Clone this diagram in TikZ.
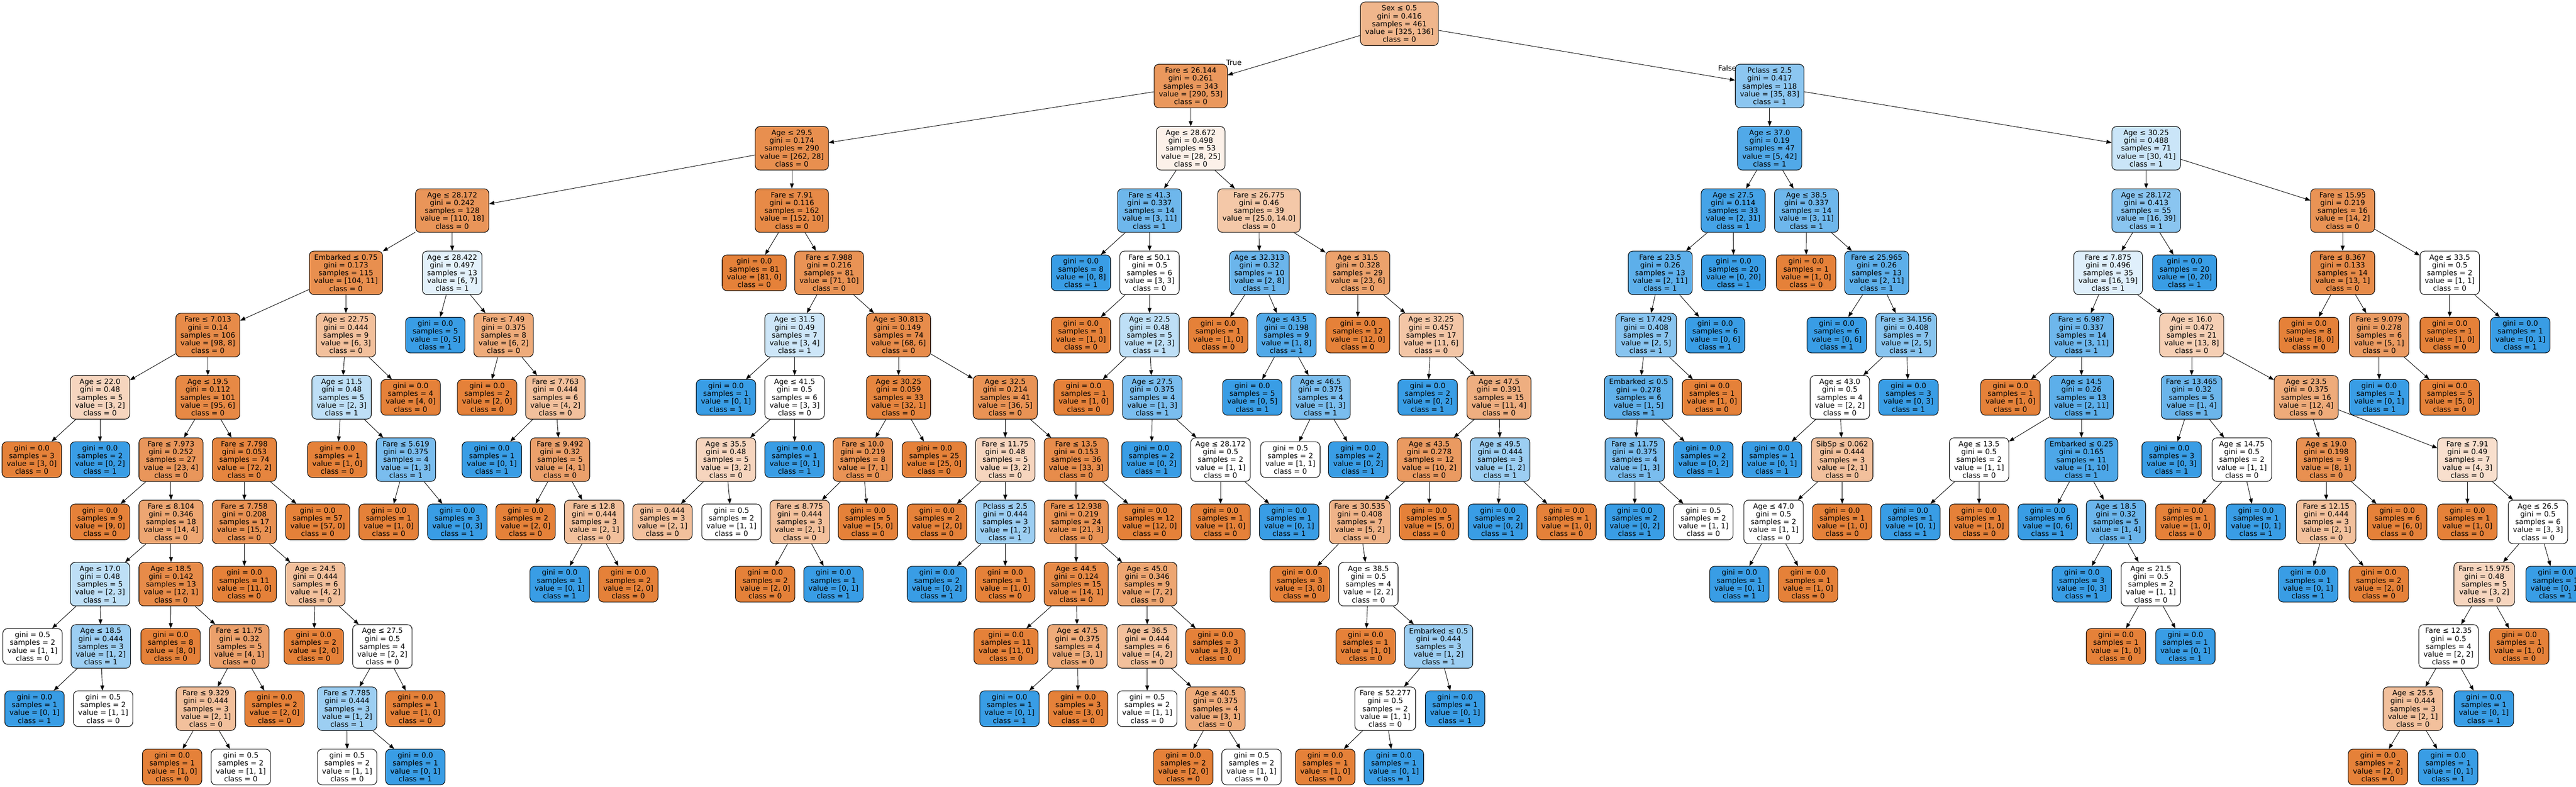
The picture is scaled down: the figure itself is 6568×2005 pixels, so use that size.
\documentclass[tikz,border=0pt]{standalone}
\usepackage{fontspec}
\setmainfont{DejaVu Sans}
\usetikzlibrary{arrows.meta}
\definecolor{cls0}{RGB}{229,129,57}
\definecolor{cls1}{RGB}{57,157,229}
\tikzset{
  dtbox/.style={draw=black, line width=0.7pt, rounded corners=6pt, align=center,
    font=\fontsize{9.25}{10}\selectfont, inner xsep=6pt, inner ysep=0pt, text=black},
  dtinner/.style={dtbox, minimum height=55.5pt},
  dtleaf/.style={dtbox, minimum height=45.5pt},
  dtedge/.style={-{Triangle[length=6.5pt,width=5pt]}, line width=0.6pt, black},
  dtlabel/.style={font=\fontsize{9.25}{10}\selectfont, inner sep=0pt, text=black}
}
\newcommand{\TreeNode}[8]{%
  \pgfmathsetmacro{\dtA}{#7}%
  \pgfmathsetmacro{\dtB}{#8}%
  \pgfmathtruncatemacro{\dtCls}{\dtB>\dtA ? 1 : 0}%
  \pgfmathsetmacro{\dtMax}{max(\dtA,\dtB)}%
  \pgfmathsetmacro{\dtMin}{min(\dtA,\dtB)}%
  \pgfmathsetmacro{\dtFrac}{(\dtMax-\dtMin)/\dtMax}%
  \pgfmathtruncatemacro{\dtAlp}{round(100*\dtFrac)}%
  \pgfmathsetmacro{\dtY}{#3==12 ? 1955 : 60.6+158.7*#3}%
  \ifnum\dtCls=0 \colorlet{dtfill}{cls0!\dtAlp!white}\else\colorlet{dtfill}{cls1!\dtAlp!white}\fi
  \if\relax\detokenize{#4}\relax
    \node[dtleaf, fill=dtfill] (#1) at (#2,\dtY) {gini = #5\\samples = #6\\value = [#7, #8]\\class = \dtCls};
  \else
    \node[dtinner, fill=dtfill] (#1) at (#2,\dtY) {#4\\gini = #5\\samples = #6\\value = [#7, #8]\\class = \dtCls};
  \fi
}
\begin{document}
\begin{tikzpicture}[x=0.5pt,y=-0.5pt]
\fill[white] (0,0) rectangle (6568,2005);
\useasboundingbox (0,0) rectangle (6568,2005);
% level 0-3
\TreeNode{R}{3568}{0}{Sex ≤ 0.5}{0.416}{461}{325}{136}
\TreeNode{A}{3036}{1}{Fare ≤ 26.144}{0.261}{343}{290}{53}
\TreeNode{B}{4512}{1}{Pclass ≤ 2.5}{0.417}{118}{35}{83}
\TreeNode{A1}{2019}{2}{Age ≤ 29.5}{0.174}{290}{262}{28}
\TreeNode{A2}{3036}{2}{Age ≤ 28.672}{0.498}{53}{28}{25}
\TreeNode{B1}{4512}{2}{Age ≤ 37.0}{0.19}{47}{5}{42}
\TreeNode{B2}{5472}{2}{Age ≤ 30.25}{0.488}{71}{30}{41}
\TreeNode{A11}{1153}{3}{Age ≤ 28.172}{0.242}{128}{110}{18}
\TreeNode{A12}{2019}{3}{Fare ≤ 7.91}{0.116}{162}{152}{10}
\TreeNode{A21}{2931}{3}{Fare ≤ 41.3}{0.337}{14}{3}{11}
\TreeNode{A22}{3210}{3}{Fare ≤ 26.775}{0.46}{39}{25.0}{14.0}
\TreeNode{B11}{4419}{3}{Age ≤ 27.5}{0.114}{33}{2}{31}
\TreeNode{B12}{4606}{3}{Age ≤ 38.5}{0.337}{14}{3}{11}
\TreeNode{B21}{5472}{3}{Age ≤ 28.172}{0.413}{55}{16}{39}
\TreeNode{B22}{5973}{3}{Fare ≤ 15.95}{0.219}{16}{14}{2}
% level 4
\TreeNode{c1}{882}{4}{Embarked ≤ 0.75}{0.173}{115}{104}{11}
\TreeNode{c2}{1153}{4}{Age ≤ 28.422}{0.497}{13}{6}{7}
\TreeNode{c3}{1923}{4}{}{0.0}{81}{81}{0}
\TreeNode{c4}{2114}{4}{Fare ≤ 7.988}{0.216}{81}{71}{10}
\TreeNode{c5}{2756}{4}{}{0.0}{8}{0}{8}
\TreeNode{c6}{2931}{4}{Fare ≤ 50.1}{0.5}{6}{3}{3}
\TreeNode{c7}{3211}{4}{Age ≤ 32.313}{0.32}{10}{2}{8}
\TreeNode{c8}{3462}{4}{Age ≤ 31.5}{0.328}{29}{23}{6}
\TreeNode{c9}{4233}{4}{Fare ≤ 23.5}{0.26}{13}{2}{11}
\TreeNode{c10}{4420}{4}{}{0.0}{20}{0}{20}
\TreeNode{c11}{4605}{4}{}{0.0}{1}{1}{0}
\TreeNode{c12}{4785}{4}{Fare ≤ 25.965}{0.26}{13}{2}{11}
\TreeNode{c13}{5375}{4}{Fare ≤ 7.875}{0.496}{35}{16}{19}
\TreeNode{c14}{5570}{4}{}{0.0}{20}{0}{20}
\TreeNode{c15}{5973}{4}{Fare ≤ 8.367}{0.133}{14}{13}{1}
\TreeNode{c16}{6246}{4}{Age ≤ 33.5}{0.5}{2}{1}{1}
% level 5
\TreeNode{d1}{530}{5}{Fare ≤ 7.013}{0.14}{106}{98}{8}
\TreeNode{d2}{882}{5}{Age ≤ 22.75}{0.444}{9}{6}{3}
\TreeNode{d3}{1110}{5}{}{0.0}{5}{0}{5}
\TreeNode{d4}{1284}{5}{Fare ≤ 7.49}{0.375}{8}{6}{2}
\TreeNode{d5}{2026}{5}{Age ≤ 31.5}{0.49}{7}{3}{4}
\TreeNode{d6}{2291}{5}{Age ≤ 30.813}{0.149}{74}{68}{6}
\TreeNode{d7}{2756}{5}{}{0.0}{1}{1}{0}
\TreeNode{d8}{2931}{5}{Age ≤ 22.5}{0.48}{5}{2}{3}
\TreeNode{d9}{3106}{5}{}{0.0}{1}{1}{0}
\TreeNode{d10}{3280}{5}{Age ≤ 43.5}{0.198}{9}{1}{8}
\TreeNode{d11}{3462}{5}{}{0.0}{12}{12}{0}
\TreeNode{d12}{3649}{5}{Age ≤ 32.25}{0.457}{17}{11}{6}
\TreeNode{d13}{4197}{5}{Fare ≤ 17.429}{0.408}{7}{2}{5}
\TreeNode{d14}{4373}{5}{}{0.0}{6}{0}{6}
\TreeNode{d15}{4683}{5}{}{0.0}{6}{0}{6}
\TreeNode{d16}{4860}{5}{Fare ≤ 34.156}{0.408}{7}{2}{5}
\TreeNode{d17}{5307}{5}{Fare ≤ 6.987}{0.337}{14}{3}{11}
\TreeNode{d18}{5588}{5}{Age ≤ 16.0}{0.472}{21}{13}{8}
\TreeNode{d19}{5887}{5}{}{0.0}{8}{8}{0}
\TreeNode{d20}{6066}{5}{Fare ≤ 9.079}{0.278}{6}{5}{1}
\TreeNode{d21}{6246}{5}{}{0.0}{1}{1}{0}
\TreeNode{d22}{6426}{5}{}{0.0}{1}{0}{1}
% level 6
\TreeNode{e1}{255}{6}{Age ≤ 22.0}{0.48}{5}{3}{2}
\TreeNode{e2}{530}{6}{Age ≤ 19.5}{0.112}{101}{95}{6}
\TreeNode{e3}{871}{6}{Age ≤ 11.5}{0.48}{5}{2}{3}
\TreeNode{e4}{1047}{6}{}{0.0}{4}{4}{0}
\TreeNode{e5}{1242}{6}{}{0.0}{2}{2}{0}
\TreeNode{e6}{1416}{6}{Fare ≤ 7.763}{0.444}{6}{4}{2}
\TreeNode{e7}{1851}{6}{}{0.0}{1}{0}{1}
\TreeNode{e8}{2026}{6}{Age ≤ 41.5}{0.5}{6}{3}{3}
\TreeNode{e9}{2291}{6}{Age ≤ 30.25}{0.059}{33}{32}{1}
\TreeNode{e10}{2563}{6}{Age ≤ 32.5}{0.214}{41}{36}{5}
\TreeNode{e11}{2763}{6}{}{0.0}{1}{1}{0}
\TreeNode{e12}{2938}{6}{Age ≤ 27.5}{0.375}{4}{1}{3}
\TreeNode{e13}{3193}{6}{}{0.0}{5}{0}{5}
\TreeNode{e14}{3367}{6}{Age ≤ 46.5}{0.375}{4}{1}{3}
\TreeNode{e15}{3640}{6}{}{0.0}{2}{0}{2}
\TreeNode{e16}{3822}{6}{Age ≤ 47.5}{0.391}{15}{11}{4}
\TreeNode{e17}{4178}{6}{Embarked ≤ 0.5}{0.278}{6}{1}{5}
\TreeNode{e18}{4365}{6}{}{0.0}{1}{1}{0}
\TreeNode{e19}{4691}{6}{Age ≤ 43.0}{0.5}{4}{2}{2}
\TreeNode{e20}{4866}{6}{}{0.0}{3}{0}{3}
\TreeNode{e21}{5126}{6}{}{0.0}{1}{1}{0}
\TreeNode{e22}{5307}{6}{Age ≤ 14.5}{0.26}{13}{2}{11}
\TreeNode{e23}{5588}{6}{Fare ≤ 13.465}{0.32}{5}{1}{4}
\TreeNode{e24}{5880}{6}{Age ≤ 23.5}{0.375}{16}{12}{4}
\TreeNode{e25}{6066}{6}{}{0.0}{1}{0}{1}
\TreeNode{e26}{6246}{6}{}{0.0}{5}{5}{0}
% level 7
\TreeNode{f1}{81}{7}{}{0.0}{3}{3}{0}
\TreeNode{f2}{255}{7}{}{0.0}{2}{0}{2}
\TreeNode{f3}{436}{7}{Fare ≤ 7.973}{0.252}{27}{23}{4}
\TreeNode{f4}{623}{7}{Fare ≤ 7.798}{0.053}{74}{72}{2}
\TreeNode{f5}{860}{7}{}{0.0}{1}{1}{0}
\TreeNode{f6}{1035}{7}{Fare ≤ 5.619}{0.375}{4}{1}{3}
\TreeNode{f7}{1254}{7}{}{0.0}{1}{0}{1}
\TreeNode{f8}{1428}{7}{Fare ≤ 9.492}{0.32}{5}{4}{1}
\TreeNode{f9}{1851}{7}{Age ≤ 35.5}{0.48}{5}{3}{2}
\TreeNode{f10}{2026}{7}{}{0.0}{1}{0}{1}
\TreeNode{f11}{2200}{7}{Fare ≤ 10.0}{0.219}{8}{7}{1}
\TreeNode{f12}{2382}{7}{}{0.0}{25}{25}{0}
\TreeNode{f13}{2563}{7}{Fare ≤ 11.75}{0.48}{5}{3}{2}
\TreeNode{f14}{2744}{7}{Fare ≤ 13.5}{0.153}{36}{33}{3}
\TreeNode{f15}{2936}{7}{}{0.0}{2}{0}{2}
\TreeNode{f16}{3112}{7}{Age ≤ 28.172}{0.5}{2}{1}{1}
\TreeNode{f17}{3290}{7}{}{0.5}{2}{1}{1}
\TreeNode{f18}{3463}{7}{}{0.0}{2}{0}{2}
\TreeNode{f19}{3644}{7}{Age ≤ 43.5}{0.278}{12}{10}{2}
\TreeNode{f20}{3825}{7}{Age ≤ 49.5}{0.444}{3}{1}{2}
\TreeNode{f21}{4168}{7}{Fare ≤ 11.75}{0.375}{4}{1}{3}
\TreeNode{f22}{4343}{7}{}{0.0}{2}{0}{2}
\TreeNode{f23}{4518}{7}{}{0.0}{1}{0}{1}
\TreeNode{f24}{4697}{7}{SibSp ≤ 0.062}{0.444}{3}{2}{1}
\TreeNode{f25}{5046}{7}{Age ≤ 13.5}{0.5}{2}{1}{1}
\TreeNode{f26}{5307}{7}{Embarked ≤ 0.25}{0.165}{11}{1}{10}
\TreeNode{f27}{5537}{7}{}{0.0}{3}{0}{3}
\TreeNode{f28}{5716}{7}{Age ≤ 14.75}{0.5}{2}{1}{1}
\TreeNode{f29}{5931}{7}{Age ≤ 19.0}{0.198}{9}{8}{1}
\TreeNode{f30}{6291}{7}{Fare ≤ 7.91}{0.49}{7}{4}{3}
% level 8
\TreeNode{g1}{255}{8}{}{0.0}{9}{9}{0}
\TreeNode{g2}{436}{8}{Fare ≤ 8.104}{0.346}{18}{14}{4}
\TreeNode{g3}{623}{8}{Fare ≤ 7.758}{0.208}{17}{15}{2}
\TreeNode{g4}{810}{8}{}{0.0}{57}{57}{0}
\TreeNode{g5}{991}{8}{}{0.0}{1}{1}{0}
\TreeNode{g6}{1166}{8}{}{0.0}{3}{0}{3}
\TreeNode{g7}{1340}{8}{}{0.0}{2}{2}{0}
\TreeNode{g8}{1515}{8}{Fare ≤ 12.8}{0.444}{3}{2}{1}
\TreeNode{g9}{1689}{8}{}{0.444}{3}{2}{1}
\TreeNode{g10}{1865}{8}{}{0.5}{2}{1}{1}
\TreeNode{g11}{2039}{8}{Fare ≤ 8.775}{0.444}{3}{2}{1}
\TreeNode{g12}{2213}{8}{}{0.0}{5}{5}{0}
\TreeNode{g13}{2389}{8}{}{0.0}{2}{2}{0}
\TreeNode{g14}{2563}{8}{Pclass ≤ 2.5}{0.444}{3}{1}{2}
\TreeNode{g15}{2744}{8}{Fare ≤ 12.938}{0.219}{24}{21}{3}
\TreeNode{g16}{2931}{8}{}{0.0}{12}{12}{0}
\TreeNode{g17}{3112}{8}{}{0.0}{1}{1}{0}
\TreeNode{g18}{3287}{8}{}{0.0}{1}{0}{1}
\TreeNode{g19}{3467}{8}{Fare ≤ 30.535}{0.408}{7}{5}{2}
\TreeNode{g20}{3644}{8}{}{0.0}{5}{5}{0}
\TreeNode{g21}{3819}{8}{}{0.0}{2}{0}{2}
\TreeNode{g22}{3994}{8}{}{0.0}{1}{1}{0}
\TreeNode{g23}{4168}{8}{}{0.0}{2}{0}{2}
\TreeNode{g24}{4343}{8}{}{0.5}{2}{1}{1}
\TreeNode{g25}{4522}{8}{Age ≤ 47.0}{0.5}{2}{1}{1}
\TreeNode{g26}{4697}{8}{}{0.0}{1}{1}{0}
\TreeNode{g27}{4871}{8}{}{0.0}{1}{0}{1}
\TreeNode{g28}{5046}{8}{}{0.0}{1}{1}{0}
\TreeNode{g29}{5221}{8}{}{0.0}{6}{0}{6}
\TreeNode{g30}{5395}{8}{Age ≤ 18.5}{0.32}{5}{1}{4}
\TreeNode{g31}{5572}{8}{}{0.0}{1}{1}{0}
\TreeNode{g32}{5752}{8}{}{0.0}{1}{0}{1}
\TreeNode{g33}{5931}{8}{Fare ≤ 12.15}{0.444}{3}{2}{1}
\TreeNode{g34}{6112}{8}{}{0.0}{6}{6}{0}
\TreeNode{g35}{6291}{8}{}{0.0}{1}{1}{0}
\TreeNode{g36}{6471}{8}{Age ≤ 26.5}{0.5}{6}{3}{3}
% level 9
\TreeNode{h1}{255}{9}{Age ≤ 17.0}{0.48}{5}{2}{3}
\TreeNode{h2}{436}{9}{Age ≤ 18.5}{0.142}{13}{12}{1}
\TreeNode{h3}{623}{9}{}{0.0}{11}{11}{0}
\TreeNode{h4}{804}{9}{Age ≤ 24.5}{0.444}{6}{4}{2}
\TreeNode{h5}{1427}{9}{}{0.0}{1}{0}{1}
\TreeNode{h6}{1602}{9}{}{0.0}{2}{2}{0}
\TreeNode{h7}{1951}{9}{}{0.0}{2}{2}{0}
\TreeNode{h8}{2125}{9}{}{0.0}{1}{0}{1}
\TreeNode{h9}{2389}{9}{}{0.0}{2}{0}{2}
\TreeNode{h10}{2563}{9}{}{0.0}{1}{1}{0}
\TreeNode{h11}{2744}{9}{Age ≤ 44.5}{0.124}{15}{14}{1}
\TreeNode{h12}{2925}{9}{Age ≤ 45.0}{0.346}{9}{7}{2}
\TreeNode{h13}{3314}{9}{}{0.0}{3}{3}{0}
\TreeNode{h14}{3489}{9}{Age ≤ 38.5}{0.5}{4}{2}{2}
\TreeNode{h15}{4435}{9}{}{0.0}{1}{0}{1}
\TreeNode{h16}{4610}{9}{}{0.0}{1}{1}{0}
\TreeNode{h17}{5308}{9}{}{0.0}{3}{0}{3}
\TreeNode{h18}{5484}{9}{Age ≤ 21.5}{0.5}{2}{1}{1}
\TreeNode{h19}{5885}{9}{}{0.0}{1}{0}{1}
\TreeNode{h20}{6065}{9}{}{0.0}{2}{2}{0}
\TreeNode{h21}{6334}{9}{Fare ≤ 15.975}{0.48}{5}{3}{2}
\TreeNode{h22}{6516}{9}{}{0.0}{1}{0}{1}
% level 10
\TreeNode{i1}{83}{10}{}{0.5}{2}{1}{1}
\TreeNode{i2}{257}{10}{Age ≤ 18.5}{0.444}{3}{1}{2}
\TreeNode{i3}{435}{10}{}{0.0}{8}{8}{0}
\TreeNode{i4}{610}{10}{Fare ≤ 11.75}{0.32}{5}{4}{1}
\TreeNode{i5}{800}{10}{}{0.0}{2}{2}{0}
\TreeNode{i6}{975}{10}{Age ≤ 27.5}{0.5}{4}{2}{2}
\TreeNode{i7}{2565}{10}{}{0.0}{11}{11}{0}
\TreeNode{i8}{2747}{10}{Age ≤ 47.5}{0.375}{4}{3}{1}
\TreeNode{i9}{2925}{10}{Age ≤ 36.5}{0.444}{6}{4}{2}
\TreeNode{i10}{3099}{10}{}{0.0}{3}{3}{0}
\TreeNode{i11}{3482}{10}{}{0.0}{1}{1}{0}
\TreeNode{i12}{3668}{10}{Embarked ≤ 0.5}{0.444}{3}{1}{2}
\TreeNode{i13}{5395}{10}{}{0.0}{1}{1}{0}
\TreeNode{i14}{5572}{10}{}{0.0}{1}{0}{1}
\TreeNode{i15}{6243}{10}{Fare ≤ 12.35}{0.5}{4}{2}{2}
\TreeNode{i16}{6423}{10}{}{0.0}{1}{1}{0}
% level 11
\TreeNode{j1}{88}{11}{}{0.0}{1}{0}{1}
\TreeNode{j2}{263}{11}{}{0.5}{2}{1}{1}
\TreeNode{j3}{525}{11}{Fare ≤ 9.329}{0.444}{3}{2}{1}
\TreeNode{j4}{700}{11}{}{0.0}{2}{2}{0}
\TreeNode{j5}{885}{11}{Fare ≤ 7.785}{0.444}{3}{1}{2}
\TreeNode{j6}{1059}{11}{}{0.0}{1}{1}{0}
\TreeNode{j7}{2574}{11}{}{0.0}{1}{0}{1}
\TreeNode{j8}{2749}{11}{}{0.0}{3}{3}{0}
\TreeNode{j9}{2925}{11}{}{0.5}{2}{1}{1}
\TreeNode{j10}{3099}{11}{Age ≤ 40.5}{0.375}{4}{3}{1}
\TreeNode{j11}{3532}{11}{Fare ≤ 52.277}{0.5}{2}{1}{1}
\TreeNode{j12}{3710}{11}{}{0.0}{1}{0}{1}
\TreeNode{j13}{6152}{11}{Age ≤ 25.5}{0.444}{3}{2}{1}
\TreeNode{j14}{6333}{11}{}{0.0}{1}{0}{1}
% level 12
\TreeNode{k1}{439}{12}{}{0.0}{1}{1}{0}
\TreeNode{k2}{614}{12}{}{0.5}{2}{1}{1}
\TreeNode{k3}{885}{12}{}{0.5}{2}{1}{1}
\TreeNode{k4}{1059}{12}{}{0.0}{1}{0}{1}
\TreeNode{k5}{3017}{12}{}{0.0}{2}{2}{0}
\TreeNode{k6}{3191}{12}{}{0.5}{2}{1}{1}
\TreeNode{k7}{3379}{12}{}{0.0}{1}{1}{0}
\TreeNode{k8}{3554}{12}{}{0.0}{1}{0}{1}
\TreeNode{k9}{6063}{12}{}{0.0}{2}{2}{0}
\TreeNode{k10}{6242}{12}{}{0.0}{1}{0}{1}
% edges
\foreach \p/\c in {R/A, R/B,
  A/A1, A/A2, B/B1, B/B2,
  A1/A11, A1/A12, A2/A21, A2/A22, B1/B11, B1/B12, B2/B21, B2/B22,
  A11/c1, A11/c2, A12/c3, A12/c4, A21/c5, A21/c6, A22/c7, A22/c8, B11/c9, B11/c10, B12/c11, B12/c12, B21/c13, B21/c14, B22/c15, B22/c16,
  c1/d1, c1/d2, c2/d3, c2/d4, c4/d5, c4/d6, c6/d7, c6/d8, c7/d9, c7/d10, c8/d11, c8/d12, c9/d13, c9/d14, c12/d15, c12/d16, c13/d17, c13/d18, c15/d19, c15/d20, c16/d21, c16/d22,
  d1/e1, d1/e2, d2/e3, d2/e4, d4/e5, d4/e6, d5/e7, d5/e8, d6/e9, d6/e10, d8/e11, d8/e12, d10/e13, d10/e14, d12/e15, d12/e16, d13/e17, d13/e18, d16/e19, d16/e20, d17/e21, d17/e22, d18/e23, d18/e24, d20/e25, d20/e26,
  e1/f1, e1/f2, e2/f3, e2/f4, e3/f5, e3/f6, e6/f7, e6/f8, e8/f9, e8/f10, e9/f11, e9/f12, e10/f13, e10/f14, e12/f15, e12/f16, e14/f17, e14/f18, e16/f19, e16/f20, e17/f21, e17/f22, e19/f23, e19/f24, e22/f25, e22/f26, e23/f27, e23/f28, e24/f29, e24/f30,
  f3/g1, f3/g2, f4/g3, f4/g4, f6/g5, f6/g6, f8/g7, f8/g8, f9/g9, f9/g10, f11/g11, f11/g12, f13/g13, f13/g14, f14/g15, f14/g16, f16/g17, f16/g18, f19/g19, f19/g20, f20/g21, f20/g22, f21/g23, f21/g24, f24/g25, f24/g26, f25/g27, f25/g28, f26/g29, f26/g30, f28/g31, f28/g32, f29/g33, f29/g34, f30/g35, f30/g36,
  g2/h1, g2/h2, g3/h3, g3/h4, g8/h5, g8/h6, g11/h7, g11/h8, g14/h9, g14/h10, g15/h11, g15/h12, g19/h13, g19/h14, g25/h15, g25/h16, g30/h17, g30/h18, g33/h19, g33/h20, g36/h21, g36/h22,
  h1/i1, h1/i2, h2/i3, h2/i4, h4/i5, h4/i6, h11/i7, h11/i8, h12/i9, h12/i10, h14/i11, h14/i12, h18/i13, h18/i14, h21/i15, h21/i16,
  i2/j1, i2/j2, i4/j3, i4/j4, i6/j5, i6/j6, i8/j7, i8/j8, i9/j9, i9/j10, i12/j11, i12/j12, i15/j13, i15/j14,
  j3/k1, j3/k2, j5/k3, j5/k4, j10/k5, j10/k6, j11/k7, j11/k8, j13/k9, j13/k10}
  \draw[dtedge] (\p) -- (\c);
\node[dtlabel] (ltrue) at (3146,159) {True};
\node[dtlabel] (lfalse) at (4404,174) {False};
\end{tikzpicture}
\end{document}
